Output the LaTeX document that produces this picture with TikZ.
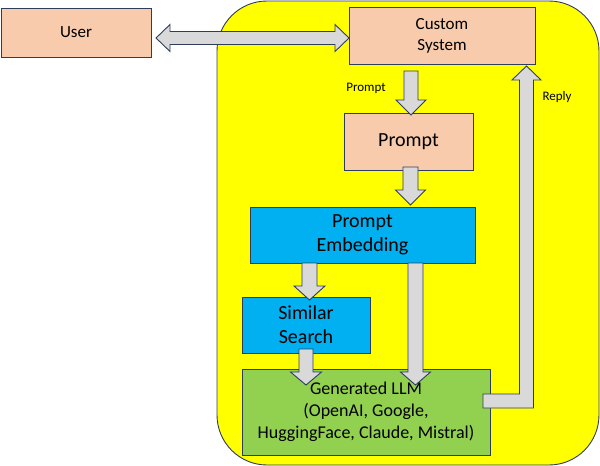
\documentclass[tikz,border=0pt]{standalone}
\usepackage{fontspec}
\setmainfont{Carlito}
\usetikzlibrary{calc}
\definecolor{peach}{HTML}{F8CBAD}
\definecolor{skyblue}{HTML}{00B0F0}
\definecolor{leaf}{HTML}{92D050}
\definecolor{sysyellow}{HTML}{FFFF00}
\definecolor{edge}{HTML}{2F3D5C}
\definecolor{arrowgray}{HTML}{D9D9D9}
\tikzset{
  box/.style={draw=edge, line width=0.9pt, rectangle, inner sep=0pt, align=center},
  peachbox/.style={box, fill=peach},
  bluebox/.style={box, fill=skyblue},
  greenbox/.style={box, fill=leaf},
  lbl/.style={inner sep=0pt, font=\fontsize{13}{15}\selectfont},
  blk/.style={draw=edge, fill=arrowgray, line width=0.9pt, line join=miter},
  vdown/.style n args={3}{blk, to path={let \p1=(\tikztostart), \p2=(\tikztotarget) in
    (\x1-#1,\y1) -- (\x1-#1,\y2+#3) -- (\x1-#2,\y2+#3) -- (\x1,\y2) -- (\x1+#2,\y2+#3) -- (\x1+#1,\y2+#3) -- (\x1+#1,\y1) -- cycle}},
  hboth/.style n args={3}{blk, to path={let \p1=(\tikztostart), \p2=(\tikztotarget) in
    (\x1,\y1) -- (\x1+#3,\y1+#2) -- (\x1+#3,\y1+#1) -- (\x2-#3,\y1+#1) -- (\x2-#3,\y1+#2) -- (\x2,\y1)
    -- (\x2-#3,\y1-#2) -- (\x2-#3,\y1-#1) -- (\x1+#3,\y1-#1) -- (\x1+#3,\y1-#2) -- cycle}},
  bentup/.style n args={3}{blk, to path={let \p1=(\tikztostart), \p2=(\tikztotarget) in
    (\x1,\y1+#1) -- (\x2-#1,\y1+#1) -- (\x2-#1,\y2-#3) -- (\x2-#2,\y2-#3) -- (\x2,\y2) -- (\x2+#2,\y2-#3)
    -- (\x2+#1,\y2-#3) -- (\x2+#1,\y1-#1) -- (\x1,\y1-#1) -- cycle}}
}
\begin{document}
\begin{tikzpicture}[x=1pt, y=-1pt]
\useasboundingbox (0,0) rectangle (600,466);
% system container
\node[draw=edge, line width=0.9pt, fill=sysyellow, rounded corners=50pt, minimum width=382pt, minimum height=464pt, inner sep=0pt] (sys) at (408,233) {};
% boxes
\node[peachbox, minimum width=150pt, minimum height=49pt, font=\fontsize{17}{21}\selectfont] (user) at (76,32.5) {User};
\node[peachbox, minimum width=186pt, minimum height=57pt, font=\fontsize{17}{21}\selectfont] (cs) at (442,35.5) {Custom\\System};
\node[peachbox, minimum width=129pt, minimum height=57pt, font=\fontsize{20}{24}\selectfont] (prompt) at (408.5,141.5) {Prompt};
\node[bluebox, minimum width=225pt, minimum height=56pt, font=\fontsize{20}{24}\selectfont] (pe) at (362.5,235) {Prompt\\Embedding};
\node[bluebox, minimum width=128pt, minimum height=56pt, font=\fontsize{20}{24}\selectfont] (ss) at (306,325) {Similar\\Search};
\node[greenbox, minimum width=248pt, minimum height=86pt, font=\fontsize{18}{22}\selectfont] (llm) at (366,412) {Generated LLM\\(OpenAI, Google,\\HuggingFace, Claude, Mistral)};
% labels
\node[lbl] (plbl) at (366,88) {Prompt};
\node[lbl] (rlbl) at (557,97) {Reply};
% connector end points
\coordinate (dA) at (156,38);
\coordinate (dB) at (349,38);
\coordinate (a1s) at (411,71);
\coordinate (a1t) at (411,115);
\coordinate (a2s) at (410.5,167);
\coordinate (a2t) at (410.5,205);
\coordinate (a3s) at (309.5,263);
\coordinate (a3t) at (309.5,300);
\coordinate (a4s) at (415.5,263);
\coordinate (a4t) at (415.5,385);
\coordinate (a5s) at (306,349);
\coordinate (a5t) at (306,385);
\coordinate (rs) at (483,401);
\coordinate (rt) at (526.5,66);
% block arrows
\draw[hboth={6.5pt}{13.5pt}{14pt}] (dA) to (dB);
\draw[vdown={7pt}{15pt}{15pt}] (a1s) to (a1t);
\draw[vdown={7.5pt}{15pt}{15pt}] (a2s) to (a2t);
\draw[vdown={7.5pt}{15.5pt}{14pt}] (a3s) to (a3t);
\draw[vdown={7.5pt}{15pt}{13pt}] (a4s) to (a4t);
\draw[vdown={7pt}{15.5pt}{13pt}] (a5s) to (a5t);
\draw[bentup={7pt}{14.5pt}{14pt}] (rs) to (rt);
\end{tikzpicture}
\end{document}
